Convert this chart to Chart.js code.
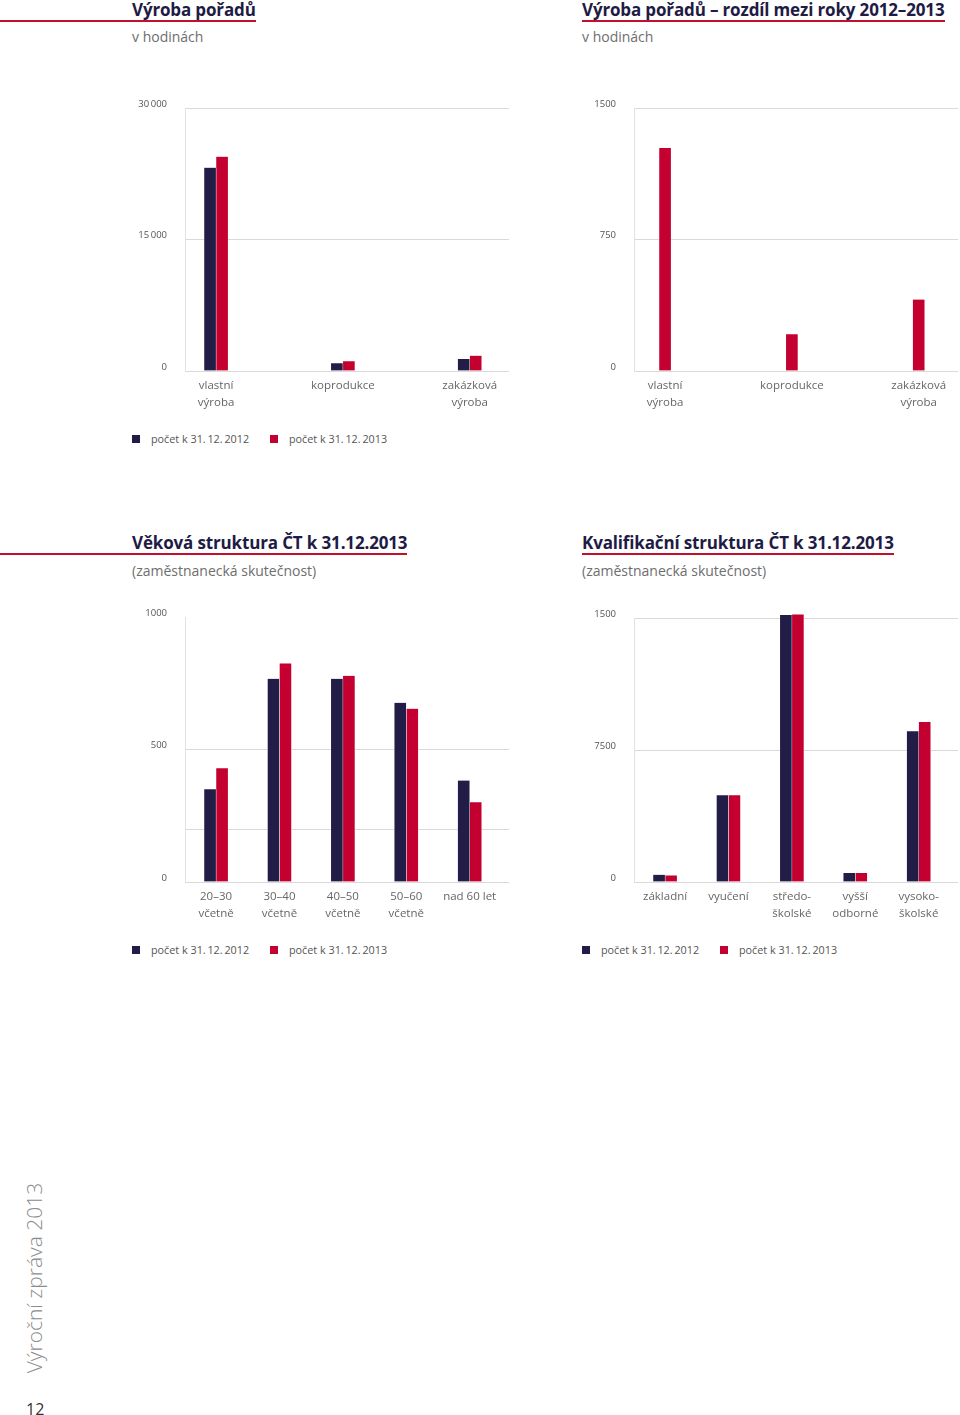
<!DOCTYPE html>
<html lang="cs">
<head>
<meta charset="utf-8">
<script src="https://cdn.jsdelivr.net/npm/chart.js@4.4.1/dist/chart.umd.min.js"></script>
<style>
  html, body { margin: 0; padding: 0; background: #ffffff; }
  body { width: 960px; height: 1415px; position: relative; overflow: hidden; font-family: "Open Sans", "Noto Sans", sans-serif; }
  .title { position: absolute; font-weight: 700; font-size: 17px; letter-spacing: -0.15px; color: #1e1b45; line-height: 20px; border-bottom: 2px solid #c10f30; white-space: nowrap; padding-bottom: 0; }
  .sub { position: absolute; font-size: 14px; color: #6e6e6e; line-height: 16px; white-space: nowrap; }
  canvas { position: absolute; }
  .legend { position: absolute; font-size: 10.8px; color: #555; line-height: 14px; white-space: nowrap; }
  .legend .box { position: absolute; width: 8px; height: 8px; top: 3px; }
  .legend .txt { position: absolute; top: 0; }
  .side { position: absolute; left: 34px; top: 1278px; transform: translate(-50%, -50%) rotate(-90deg); font-size: 21px; font-weight: 300; color: #8c8c8c; white-space: nowrap; font-family: "Open Sans", sans-serif; }
  .page { position: absolute; left: 26px; top: 1398px; font-size: 16px; color: #333; }
</style>
</head>
<body>
<div class="title" style="left:0; padding-left:132px; top:0;">Výroba pořadů</div>
<div class="sub" style="left:132px; top:29px;">v hodinách</div>
<div class="title" style="left:582px; top:0;">Výroba pořadů – rozdíl mezi roky 2012–2013</div>
<div class="sub" style="left:582px; top:29px;">v hodinách</div>

<canvas id="c1" width="400" height="330" style="left:120px; top:90px;"></canvas>
<canvas id="c2" width="391" height="330" style="left:569px; top:90px;"></canvas>
<div id="lg1" class="legend" style="left:0; top:432px;"></div>

<div class="title" style="left:0; padding-left:132px; top:533px;">Věková struktura ČT k 31.12.2013</div>
<div class="sub" style="left:132px; top:563px;">(zaměstnanecká skutečnost)</div>
<div class="title" style="left:582px; top:533px;">Kvalifikační struktura ČT k 31.12.2013</div>
<div class="sub" style="left:582px; top:563px;">(zaměstnanecká skutečnost)</div>

<canvas id="c3" width="400" height="330" style="left:120px; top:600px;"></canvas>
<canvas id="c4" width="391" height="330" style="left:569px; top:600px;"></canvas>
<div id="lg3" class="legend" style="left:0; top:943px;"></div>
<div id="lg4" class="legend" style="left:450px; top:943px;"></div>

<div class="side">Výroční zpráva 2013</div>
<div class="page">12</div>

<script>
// ---------- data ----------
const seriesNames = ['počet k 31.\u200912.\u20092012', 'počet k 31.\u200912.\u20092013'];
const seriesColors = ['#211d47', '#c3002f'];

const prodCategories = [['vlastní', 'výroba'], ['koprodukce'], ['zakázková', 'výroba']];
const prod2012 = [23190, 880, 1370];
const prod2013 = [24450, 1110, 1745];
const prodTickValues = [0, 15000, 30000];
const prodTickLabels = ['0', '15\u2009000', '30\u2009000'];

const diffValues = [1272, 209, 408];
const diffTickValues = [0, 750, 1500];
const diffTickLabels = ['0', '750', '1500'];

const ageCategories = [['20–30', 'včetně'], ['30–40', 'včetně'], ['40–50', 'včetně'], ['50–60', 'včetně'], ['nad 60 let']];
const age2012 = [350, 767, 767, 676, 383];
const age2013 = [429, 825, 778, 654, 301];
const ageTickValues = [0, 200, 500, 1000];
const ageTickLabels = ['0', '', '500', '1000'];

const eduCategories = [['základní'], ['vyučení'], ['středo-', 'školské'], ['vyšší', 'odborné'], ['vysoko-', 'školské']];
const edu2012 = [414, 4936, 15165, 510, 8566];
const edu2013 = [374, 4936, 15204, 510, 9094];
const eduTickValues = [0, 7500, 15000];
const eduTickLabels = ['0', '7500', '1500'];

// ---------- helpers ----------
const FONT = '"Open Sans", "Noto Sans", sans-serif';
const GRID = '#d9d9d9';

function points(values) {
  return values.map((v, i) => ({ x: i, y: v }));
}

function makeChart(id, categories, seriesList, yMax, tickValues, tickLabels, xMin, xMax, opts) {
  opts = opts || {};
  const canvas = document.getElementById(id);
  const H = canvas.height;
  const areaTop = opts.areaTop, areaBottom = opts.areaBottom;
  const datasets = seriesList.map(s => ({
    label: s.label,
    data: points(s.values),
    backgroundColor: s.color,
    borderColor: '#ffffff',
    borderWidth: { left: 0.5, right: 0.5, top: 0, bottom: 0 },
    borderSkipped: false,
    barThickness: 12,
    clip: false
  }));
  return new Chart(canvas, {
    type: 'bar',
    data: { datasets },
    options: {
      responsive: false,
      animation: false,
      devicePixelRatio: 1,
      layout: { padding: { top: areaTop, right: opts.padRight, left: 0, bottom: 0 } },
      plugins: { legend: { display: false }, tooltip: { enabled: false } },
      scales: {
        x: {
          type: 'linear',
          offset: false,
          min: xMin,
          max: xMax,
          grid: { display: false, offset: false },
          border: { display: false },
          afterBuildTicks: (s) => { s.ticks = categories.map((c, i) => ({ value: i })); },
          afterFit: (s) => { s.height = H - areaBottom; s.paddingLeft = 0; s.paddingRight = 0; },
          ticks: {
            autoSkip: false,
            maxRotation: 0,
            padding: -2,
            color: '#666666',
            font: { family: FONT, size: 11.5, lineHeight: 1.5 },
            callback: (v, i) => categories[i]
          }
        },
        y: {
          type: 'linear',
          min: 0,
          max: yMax,
          afterBuildTicks: (s) => { s.ticks = tickValues.map(v => ({ value: v })); },
          afterFit: (s) => { s.width = 65; s.paddingTop = 0; s.paddingBottom = 0; },
          grid: {
            drawTicks: false,
            lineWidth: 1,
            color: (ctx) => (opts.hideGrid && opts.hideGrid.includes(ctx.tick && ctx.tick.value)) ? 'rgba(0,0,0,0)' : GRID
          },
          border: { display: true, color: '#e2e2e2', width: 1 },
          ticks: {
            padding: 18,
            labelOffset: -4,
            color: '#555555',
            font: { family: FONT, size: 9.5 },
            callback: (v, i) => tickLabels[i]
          }
        }
      }
    }
  });
}

function makeLegend(id, x0) {
  const el = document.getElementById(id);
  const offsets = [0, 138];
  seriesNames.forEach((n, i) => {
    const b = document.createElement('div');
    b.className = 'box';
    b.style.left = (x0 + offsets[i]) + 'px';
    b.style.background = seriesColors[i];
    el.appendChild(b);
    const t = document.createElement('div');
    t.className = 'txt';
    t.style.left = (x0 + offsets[i] + 19) + 'px';
    t.textContent = n;
    el.appendChild(t);
  });
}

// ---------- charts ----------
makeChart('c1', prodCategories, [
  { label: seriesNames[0], values: prod2012, color: seriesColors[0] },
  { label: seriesNames[1], values: prod2013, color: seriesColors[1] }
], 30000, prodTickValues, prodTickLabels, -0.245, 2.31, { areaTop: 18, areaBottom: 281, padRight: 11 });

makeChart('c2', prodCategories, [
  { label: 'rozdíl', values: diffValues, color: seriesColors[1] }
], 1500, diffTickValues, diffTickLabels, -0.245, 2.31, { areaTop: 18, areaBottom: 281, padRight: 2 });

makeChart('c3', ageCategories, [
  { label: seriesNames[0], values: age2012, color: seriesColors[0] },
  { label: seriesNames[1], values: age2013, color: seriesColors[1] }
], 1000, ageTickValues, ageTickLabels, -0.49, 4.62, { areaTop: 17, areaBottom: 282, padRight: 11, hideGrid: [1000] });

makeChart('c4', eduCategories, [
  { label: seriesNames[0], values: edu2012, color: seriesColors[0] },
  { label: seriesNames[1], values: edu2013, color: seriesColors[1] }
], 15000, eduTickValues, eduTickLabels, -0.49, 4.62, { areaTop: 18, areaBottom: 282, padRight: 2 });

makeLegend('lg1', 132);
makeLegend('lg3', 132);
makeLegend('lg4', 132);
</script>
</body>
</html>
